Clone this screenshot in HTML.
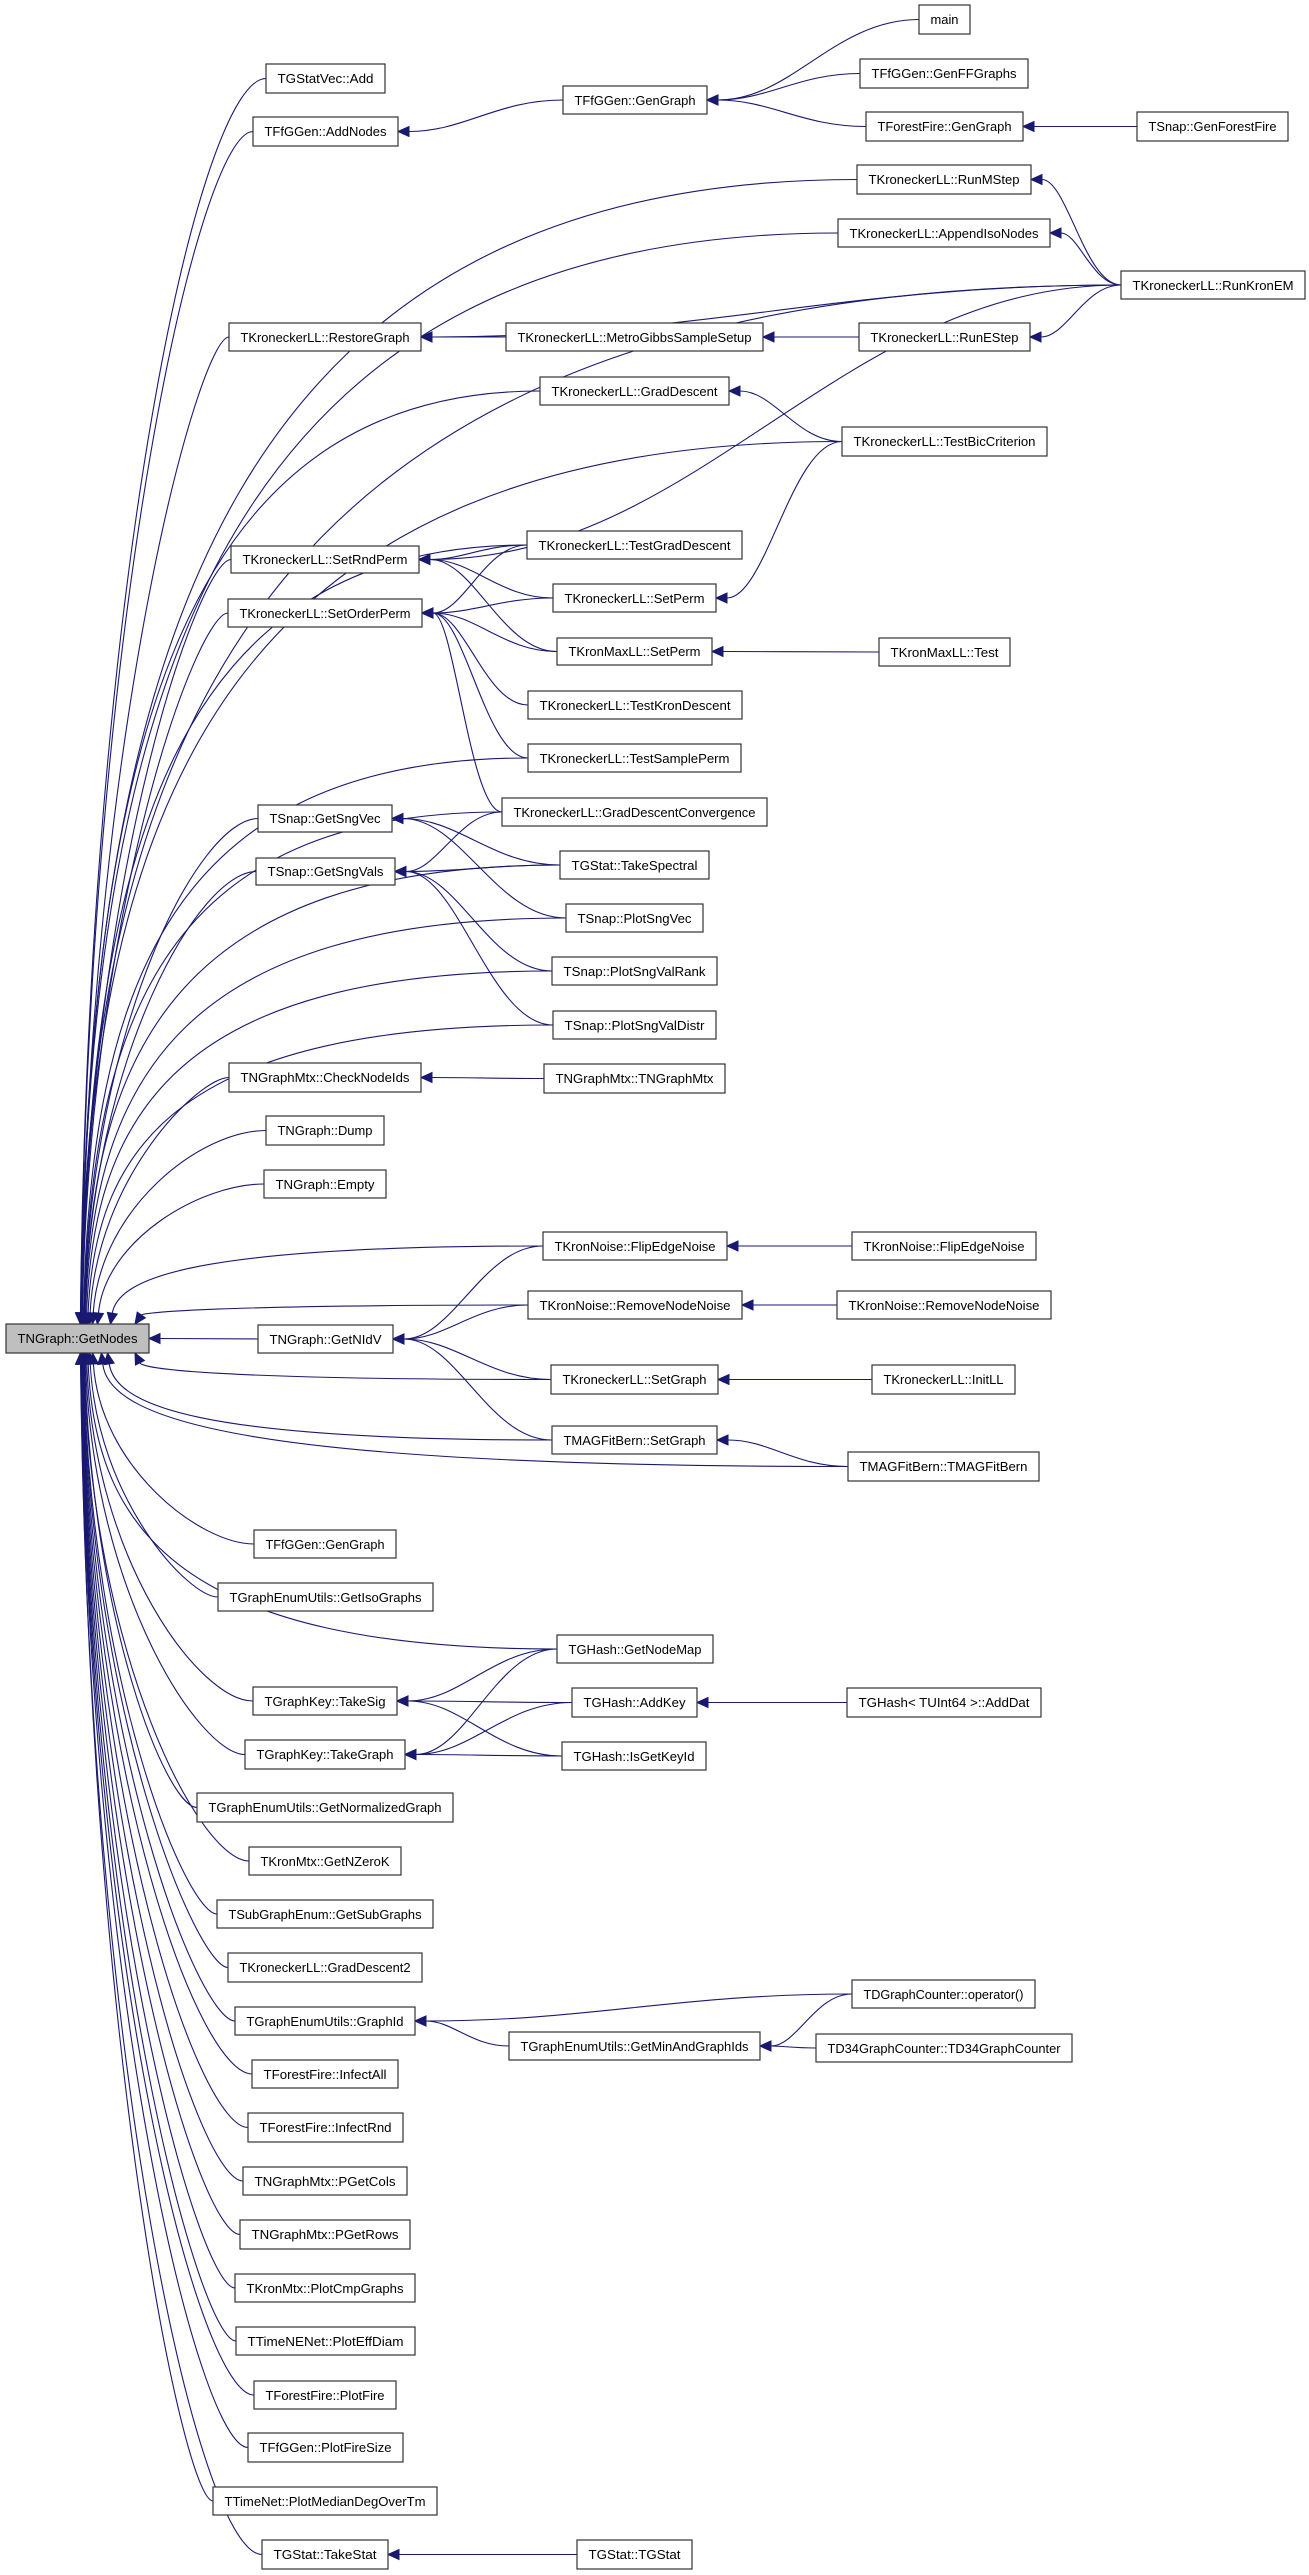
<!DOCTYPE html>
<html><head><meta charset="utf-8"><style>
html,body{margin:0;padding:0;background:#fff;}
svg{display:block;}
text{font-family:"Liberation Sans",Arial,sans-serif;font-size:13px;fill:#000;}
rect{fill:#fff;stroke:#333;stroke-width:1.2;}
</style></head><body>
<svg id="s" width="1309" height="2575" viewBox="0 0 1309 2575" xmlns="http://www.w3.org/2000/svg">
<g id="edges"></g>
<g id="nodes">
<g id="n1"><rect x="919" y="5" width="51" height="29"/><text x="944.5" y="24" text-anchor="middle">main</text></g>
<g id="n2"><rect x="860" y="59" width="168" height="29"/><text x="944" y="78" text-anchor="middle">TFfGGen::GenFFGraphs</text></g>
<g id="n3"><rect x="866" y="112" width="157" height="29"/><text x="944.5" y="131" text-anchor="middle">TForestFire::GenGraph</text></g>
<g id="n4"><rect x="1137" y="112" width="151" height="29"/><text x="1212.5" y="131" text-anchor="middle">TSnap::GenForestFire</text></g>
<g id="n5"><rect x="563" y="86" width="144" height="28"/><text x="635" y="105" text-anchor="middle">TFfGGen::GenGraph</text></g>
<g id="n6"><rect x="266" y="64" width="119" height="29"/><text x="325.5" y="83" text-anchor="middle">TGStatVec::Add</text></g>
<g id="n7"><rect x="253" y="117" width="145" height="29"/><text x="325.5" y="136" text-anchor="middle">TFfGGen::AddNodes</text></g>
<g id="n8"><rect x="857" y="165" width="174" height="29"/><text x="944" y="184" text-anchor="middle">TKroneckerLL::RunMStep</text></g>
<g id="n9"><rect x="838" y="219" width="212" height="28"/><text x="944" y="238" text-anchor="middle">TKroneckerLL::AppendIsoNodes</text></g>
<g id="n10"><rect x="1121" y="271" width="184" height="28"/><text x="1213" y="290" text-anchor="middle">TKroneckerLL::RunKronEM</text></g>
<g id="n11"><rect x="229" y="323" width="192" height="28"/><text x="325" y="342" text-anchor="middle">TKroneckerLL::RestoreGraph</text></g>
<g id="n12"><rect x="506" y="323" width="257" height="28"/><text x="634.5" y="342" text-anchor="middle">TKroneckerLL::MetroGibbsSampleSetup</text></g>
<g id="n13"><rect x="859" y="323" width="171" height="28"/><text x="944.5" y="342" text-anchor="middle">TKroneckerLL::RunEStep</text></g>
<g id="n14"><rect x="540" y="377" width="189" height="28"/><text x="634.5" y="396" text-anchor="middle">TKroneckerLL::GradDescent</text></g>
<g id="n15"><rect x="842" y="427" width="205" height="29"/><text x="944.5" y="446" text-anchor="middle">TKroneckerLL::TestBicCriterion</text></g>
<g id="n16"><rect x="231" y="546" width="188" height="27"/><text x="325" y="564" text-anchor="middle">TKroneckerLL::SetRndPerm</text></g>
<g id="n17"><rect x="228" y="599" width="194" height="28"/><text x="325" y="618" text-anchor="middle">TKroneckerLL::SetOrderPerm</text></g>
<g id="n18"><rect x="527" y="531" width="215" height="28"/><text x="634.5" y="550" text-anchor="middle">TKroneckerLL::TestGradDescent</text></g>
<g id="n19"><rect x="553" y="584" width="163" height="28"/><text x="634.5" y="603" text-anchor="middle">TKroneckerLL::SetPerm</text></g>
<g id="n20"><rect x="557" y="638" width="155" height="27"/><text x="634.5" y="656" text-anchor="middle">TKronMaxLL::SetPerm</text></g>
<g id="n21"><rect x="879" y="638" width="131" height="28"/><text x="944.5" y="657" text-anchor="middle">TKronMaxLL::Test</text></g>
<g id="n22"><rect x="528" y="691" width="214" height="28"/><text x="635" y="710" text-anchor="middle">TKroneckerLL::TestKronDescent</text></g>
<g id="n23"><rect x="528" y="744" width="213" height="28"/><text x="634.5" y="763" text-anchor="middle">TKroneckerLL::TestSamplePerm</text></g>
<g id="n24"><rect x="502" y="798" width="265" height="28"/><text x="634.5" y="817" text-anchor="middle">TKroneckerLL::GradDescentConvergence</text></g>
<g id="n25"><rect x="258" y="805" width="134" height="27"/><text x="325" y="823" text-anchor="middle">TSnap::GetSngVec</text></g>
<g id="n26"><rect x="256" y="858" width="139" height="27"/><text x="325.5" y="876" text-anchor="middle">TSnap::GetSngVals</text></g>
<g id="n27"><rect x="560" y="851" width="149" height="28"/><text x="634.5" y="870" text-anchor="middle">TGStat::TakeSpectral</text></g>
<g id="n28"><rect x="566" y="904" width="137" height="28"/><text x="634.5" y="923" text-anchor="middle">TSnap::PlotSngVec</text></g>
<g id="n29"><rect x="552" y="957" width="165" height="28"/><text x="634.5" y="976" text-anchor="middle">TSnap::PlotSngValRank</text></g>
<g id="n30"><rect x="553" y="1011" width="163" height="28"/><text x="634.5" y="1030" text-anchor="middle">TSnap::PlotSngValDistr</text></g>
<g id="n31"><rect x="229" y="1063" width="192" height="29"/><text x="325" y="1082" text-anchor="middle">TNGraphMtx::CheckNodeIds</text></g>
<g id="n32"><rect x="544" y="1064" width="181" height="29"/><text x="634.5" y="1083" text-anchor="middle">TNGraphMtx::TNGraphMtx</text></g>
<g id="n33"><rect x="266" y="1116" width="118" height="29"/><text x="325" y="1135" text-anchor="middle">TNGraph::Dump</text></g>
<g id="n34"><rect x="264" y="1170" width="122" height="28"/><text x="325" y="1189" text-anchor="middle">TNGraph::Empty</text></g>
<g id="n35"><rect x="543" y="1232" width="184" height="28"/><text x="635" y="1251" text-anchor="middle">TKronNoise::FlipEdgeNoise</text></g>
<g id="n36"><rect x="852" y="1232" width="184" height="28"/><text x="944" y="1251" text-anchor="middle">TKronNoise::FlipEdgeNoise</text></g>
<g id="n37"><rect x="528" y="1291" width="214" height="28"/><text x="635" y="1310" text-anchor="middle">TKronNoise::RemoveNodeNoise</text></g>
<g id="n38"><rect x="837" y="1291" width="214" height="28"/><text x="944" y="1310" text-anchor="middle">TKronNoise::RemoveNodeNoise</text></g>
<g id="n39"><rect x="6" y="1324" width="143" height="29" style="fill:#bfbfbf"/><text x="77.5" y="1343" text-anchor="middle">TNGraph::GetNodes</text></g>
<g id="n40"><rect x="258" y="1325" width="135" height="28"/><text x="325.5" y="1344" text-anchor="middle">TNGraph::GetNIdV</text></g>
<g id="n41"><rect x="551" y="1365" width="167" height="29"/><text x="634.5" y="1384" text-anchor="middle">TKroneckerLL::SetGraph</text></g>
<g id="n42"><rect x="872" y="1365" width="143" height="29"/><text x="943.5" y="1384" text-anchor="middle">TKroneckerLL::InitLL</text></g>
<g id="n43"><rect x="552" y="1426" width="165" height="28"/><text x="634.5" y="1445" text-anchor="middle">TMAGFitBern::SetGraph</text></g>
<g id="n44"><rect x="848" y="1452" width="191" height="29"/><text x="943.5" y="1471" text-anchor="middle">TMAGFitBern::TMAGFitBern</text></g>
<g id="n45"><rect x="254" y="1530" width="142" height="28"/><text x="325" y="1549" text-anchor="middle">TFfGGen::GenGraph</text></g>
<g id="n46"><rect x="218" y="1583" width="215" height="28"/><text x="325.5" y="1602" text-anchor="middle">TGraphEnumUtils::GetIsoGraphs</text></g>
<g id="n47"><rect x="557" y="1635" width="156" height="28"/><text x="635" y="1654" text-anchor="middle">TGHash::GetNodeMap</text></g>
<g id="n48"><rect x="253" y="1687" width="144" height="28"/><text x="325" y="1706" text-anchor="middle">TGraphKey::TakeSig</text></g>
<g id="n49"><rect x="572" y="1688" width="125" height="29"/><text x="634.5" y="1707" text-anchor="middle">TGHash::AddKey</text></g>
<g id="n50"><rect x="847" y="1688" width="194" height="29"/><text x="944" y="1707" text-anchor="middle">TGHash&lt; TUInt64 &gt;::AddDat</text></g>
<g id="n51"><rect x="245" y="1740" width="160" height="29"/><text x="325" y="1759" text-anchor="middle">TGraphKey::TakeGraph</text></g>
<g id="n52"><rect x="562" y="1742" width="144" height="28"/><text x="634" y="1761" text-anchor="middle">TGHash::IsGetKeyId</text></g>
<g id="n53"><rect x="197" y="1793" width="256" height="29"/><text x="325" y="1812" text-anchor="middle">TGraphEnumUtils::GetNormalizedGraph</text></g>
<g id="n54"><rect x="249" y="1847" width="152" height="28"/><text x="325" y="1866" text-anchor="middle">TKronMtx::GetNZeroK</text></g>
<g id="n55"><rect x="217" y="1900" width="216" height="28"/><text x="325" y="1919" text-anchor="middle">TSubGraphEnum::GetSubGraphs</text></g>
<g id="n56"><rect x="228" y="1953" width="194" height="29"/><text x="325" y="1972" text-anchor="middle">TKroneckerLL::GradDescent2</text></g>
<g id="n57"><rect x="852" y="1980" width="183" height="28"/><text x="943.5" y="1999" text-anchor="middle">TDGraphCounter::operator()</text></g>
<g id="n58"><rect x="235" y="2007" width="180" height="28"/><text x="325" y="2026" text-anchor="middle">TGraphEnumUtils::GraphId</text></g>
<g id="n59"><rect x="509" y="2032" width="251" height="28"/><text x="634.5" y="2051" text-anchor="middle">TGraphEnumUtils::GetMinAndGraphIds</text></g>
<g id="n60"><rect x="816" y="2034" width="256" height="28"/><text x="944" y="2053" text-anchor="middle">TD34GraphCounter::TD34GraphCounter</text></g>
<g id="n61"><rect x="252" y="2060" width="146" height="28"/><text x="325" y="2079" text-anchor="middle">TForestFire::InfectAll</text></g>
<g id="n62"><rect x="248" y="2113" width="155" height="29"/><text x="325.5" y="2132" text-anchor="middle">TForestFire::InfectRnd</text></g>
<g id="n63"><rect x="243" y="2167" width="164" height="28"/><text x="325" y="2186" text-anchor="middle">TNGraphMtx::PGetCols</text></g>
<g id="n64"><rect x="240" y="2220" width="170" height="29"/><text x="325" y="2239" text-anchor="middle">TNGraphMtx::PGetRows</text></g>
<g id="n65"><rect x="235" y="2274" width="180" height="28"/><text x="325" y="2293" text-anchor="middle">TKronMtx::PlotCmpGraphs</text></g>
<g id="n66"><rect x="236" y="2327" width="179" height="28"/><text x="325.5" y="2346" text-anchor="middle">TTimeNENet::PlotEffDiam</text></g>
<g id="n67"><rect x="254" y="2381" width="142" height="28"/><text x="325" y="2400" text-anchor="middle">TForestFire::PlotFire</text></g>
<g id="n68"><rect x="248" y="2433" width="155" height="29"/><text x="325.5" y="2452" text-anchor="middle">TFfGGen::PlotFireSize</text></g>
<g id="n69"><rect x="213" y="2487" width="224" height="28"/><text x="325" y="2506" text-anchor="middle">TTimeNet::PlotMedianDegOverTm</text></g>
<g id="n70"><rect x="262" y="2540" width="126" height="29"/><text x="325" y="2559" text-anchor="middle">TGStat::TakeStat</text></g>
<g id="n71"><rect x="577" y="2540" width="115" height="29"/><text x="634.5" y="2559" text-anchor="middle">TGStat::TGStat</text></g>
</g>
</svg>
<script>
(function(){
var NS="http://www.w3.org/2000/svg";
var eg=document.getElementById("edges");
function box(i){var r=document.querySelector("#n"+i+" rect");var x=+r.getAttribute("x"),y=+r.getAttribute("y"),w=+r.getAttribute("width"),h=+r.getAttribute("height");return {l:x,r:x+w,t:y,b:y+h,cy:y+h/2,cx:x+w/2};}
var ts=document.querySelectorAll("#nodes g");
for(var k=0;k<ts.length;k++){var r=ts[k].querySelector("rect"),t=ts[k].querySelector("text");var w=+r.getAttribute("width")-23;t.setAttribute("textLength",w);t.setAttribute("lengthAdjust","spacingAndGlyphs");}
function draw(sx,sy,c1x,c1y,c2x,c2y,tx,ty){
 var dx=tx-c2x,dy=ty-c2y,L=Math.sqrt(dx*dx+dy*dy)||1;dx/=L;dy/=L;
 var bx=tx-dx*11,by=ty-dy*11;
 var p=document.createElementNS(NS,"path");
 p.setAttribute("d","M"+sx+","+sy+" C"+c1x+","+c1y+" "+c2x+","+c2y+" "+bx+","+by);
 p.setAttribute("fill","none");p.setAttribute("stroke","#191970");p.setAttribute("stroke-width","1.1");
 eg.appendChild(p);
 var px=-dy*5,py=dx*5;
 var a=document.createElementNS(NS,"polygon");
 a.setAttribute("points",tx+","+ty+" "+(bx+px)+","+(by+py)+" "+(bx-px)+","+(by-py));
 a.setAttribute("fill","#191970");a.setAttribute("stroke","#191970");
 eg.appendChild(a);
}
var G=box(39);
var toG=[6,7,11,16,17,25,26,31,33,34,45,46,48,51,53,54,55,56,58,61,62,63,64,65,66,67,68,69,70,8,9,10,14,15,18,23,24,27,28,29,30,35,37,41,43,44,47];
toG.forEach(function(i){
 var s=box(i),sx=s.l,sy=s.cy;
 var dyv=sy-G.cy,ad=Math.abs(dyv),sg=dyv<0?-1:1;
 var ex=78+Math.min(57,3000/Math.max(ad,1));
 var ey=sg<0?G.t:G.b;
 var c1x=Math.min(sx-30,200),c1y=sy;
 if(sx>450){c1x=ex+0.2*(sx-ex);}
 var c2x=ex+8,c2y=ey+sg*0.6*Math.abs(sy-ey);
 draw(sx,sy,c1x,c1y,c2x,c2y,ex,ey);
});
var n=box(40);draw(n.l,n.cy,n.l-40,n.cy,G.r+40,G.cy,G.r,G.cy);
var E=[[5,7],[1,5],[2,5],[3,5],[4,3],[10,8],[10,9],[10,11],[10,13],[10,16],[12,11],[13,12],[15,14],[15,19],[18,16],[18,17],[19,16],[19,17],[20,16],[20,17],[21,20],[22,17],[23,17],[24,17],[27,25],[27,26],[24,26],[28,25],[29,26],[30,26],[32,31],[35,40],[37,40],[41,40],[43,40],[36,35],[38,37],[42,41],[44,43],[47,48],[47,51],[49,48],[49,51],[52,48],[52,51],[50,49],[57,58],[57,59],[59,58],[60,59],[71,70]];
E.forEach(function(e){
 var a=box(e[0]),b=box(e[1]);
 var sx=a.l,sy=a.cy,tx=b.r,ty=b.cy,d=(sx-tx)*0.4;
 draw(sx,sy,sx-d,sy,tx+d,ty,tx,ty);
});
})();
</script>
</body></html>
